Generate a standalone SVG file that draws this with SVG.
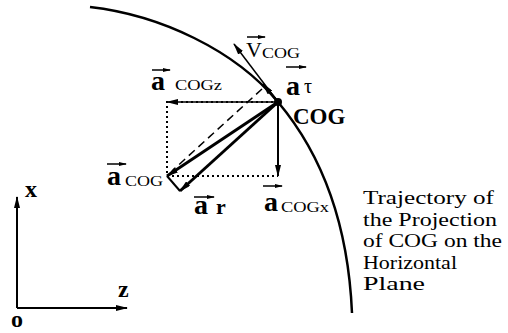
<svg xmlns="http://www.w3.org/2000/svg" width="508" height="333" viewBox="0 0 508 333">
<defs>
<marker id="ah" markerWidth="12" markerHeight="6" refX="11" refY="3" orient="auto" markerUnits="userSpaceOnUse"><path d="M0,0 L12,3 L0,6 Z" fill="#000"/></marker>
<marker id="ahs" markerWidth="8" markerHeight="4" refX="7" refY="2" orient="auto" markerUnits="userSpaceOnUse"><path d="M0,0 L8,2 L0,4 Z" fill="#000"/></marker>
<style>
.ln{stroke:#000;fill:none}
.dot{stroke:#000;stroke-width:2;stroke-dasharray:2 3;fill:none}
.a{font-family:"Liberation Serif",serif;font-weight:bold;font-size:28px;fill:#000}
.sub{font-family:"Liberation Serif",serif;font-size:15px;fill:#000}
.t{font-family:"Liberation Serif",serif;font-size:19px;fill:#000}
.ax{font-family:"Liberation Serif",serif;font-weight:bold;font-size:24px;fill:#000}
.ov{stroke:#000;stroke-width:1.5;marker-end:url(#ahs)}
</style>
</defs>
<g id="trajectory">
<path class="ln" stroke-width="2.5" d="M90,7 C160,15 235,50 278,102 C320,152 348,220 352,313"/>
</g>
<g id="axes">
<line class="ln" stroke-width="2" x1="17" y1="308" x2="17" y2="197" marker-end="url(#ah)"/>
<line class="ln" stroke-width="2" x1="17" y1="308" x2="127" y2="308" marker-end="url(#ah)"/>
<text x="25" y="197" class="ax">x</text>
<text x="118" y="297" class="ax">z</text>
<text x="11" y="327" class="ax">o</text>
</g>
<g id="connectors">
<path class="dot" d="M278,102 L167,102 L167,176 L278,176"/>
<line class="ln" stroke-width="1.5" x1="278" y1="102" x2="167" y2="102" marker-end="url(#ah)"/>
<line class="ln" stroke-width="2" x1="278" y1="102" x2="278" y2="176" marker-end="url(#ah)"/>
<line class="ln" stroke-width="3" x1="278" y1="102" x2="167" y2="176" marker-end="url(#ah)"/>
<line class="ln" stroke-width="3" x1="278" y1="102" x2="180" y2="191" marker-end="url(#ah)"/>
<line class="ln" stroke-width="2" x1="180" y1="191" x2="167" y2="176"/>
<line class="ln" stroke-width="1.5" stroke-dasharray="8 5" x1="262" y1="89" x2="172" y2="171"/>
<line class="ln" stroke-width="1.5" x1="278" y1="102" x2="234" y2="44" marker-end="url(#ah)"/>
<line class="ln" stroke-width="2.5" x1="278" y1="102" x2="263" y2="84" marker-end="url(#ah)"/>
</g>
<g id="COG">
<circle cx="278" cy="102" r="4" fill="#000"/>
<text x="293" y="124" style="font-family:'Liberation Serif',serif;font-weight:bold;font-size:23px">COG</text>
</g>
<g id="label-v">
<line class="ov" x1="247" y1="37" x2="265" y2="37"/>
<text x="246" y="57" style="font-family:'Liberation Serif',serif;font-size:22px">V</text>
<text x="262" y="58" class="sub" textLength="38" lengthAdjust="spacingAndGlyphs">COG</text>
</g>
<g id="label-atau">
<line class="ov" x1="286" y1="67" x2="306" y2="67"/>
<text x="286" y="95" class="a">a</text>
<text x="304" y="93" style="font-family:'Liberation Serif',serif;font-size:20px">τ</text>
</g>
<g id="label-acogz">
<line class="ov" x1="152" y1="70" x2="170" y2="70"/>
<text x="151" y="90" class="a">a</text>
<text x="175" y="90" class="sub" textLength="47" lengthAdjust="spacingAndGlyphs">COGz</text>
</g>
<g id="label-acog">
<line class="ov" x1="107" y1="164" x2="126" y2="164"/>
<text x="107" y="185" class="a">a</text>
<text x="125" y="186" class="sub" textLength="38" lengthAdjust="spacingAndGlyphs">COG</text>
</g>
<g id="label-ar">
<line class="ov" x1="194" y1="197" x2="214" y2="197"/>
<text x="194" y="214" class="a">a</text>
<text x="216" y="214" style="font-family:'Liberation Serif',serif;font-weight:bold;font-size:22px">r</text>
</g>
<g id="label-acogx">
<line class="ov" x1="263" y1="186" x2="282" y2="186"/>
<text x="264" y="211" class="a">a</text>
<text x="281" y="212" class="sub" textLength="48" lengthAdjust="spacingAndGlyphs">COGx</text>
</g>
<g id="label-trajectory">
<text x="363" y="204" class="t" textLength="131" lengthAdjust="spacingAndGlyphs">Trajectory of</text>
<text x="363" y="225.5" class="t" textLength="134" lengthAdjust="spacingAndGlyphs">the Projection</text>
<text x="363" y="247" class="t" textLength="139" lengthAdjust="spacingAndGlyphs">of COG on the</text>
<text x="363" y="268.5" class="t" textLength="94" lengthAdjust="spacingAndGlyphs">Horizontal</text>
<text x="363" y="290" class="t" textLength="62" lengthAdjust="spacingAndGlyphs">Plane</text>
</g>
</svg>
